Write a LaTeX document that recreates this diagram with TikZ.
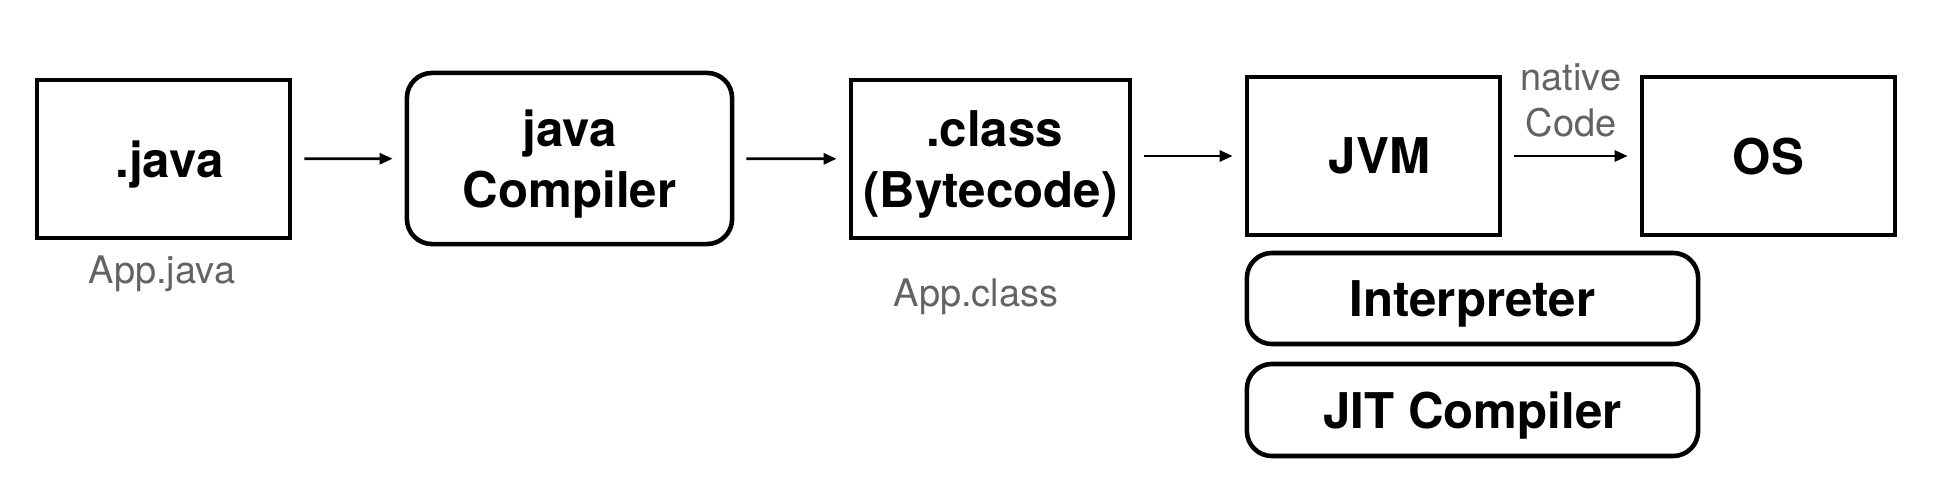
\documentclass[tikz,border=0pt]{standalone}
\usepackage{fontspec}
\setmainfont{TeX Gyre Heros}
\usepackage{tikz}
\usetikzlibrary{positioning, arrows.meta}
\definecolor{notegray}{HTML}{636363}

\begin{document}
\begin{tikzpicture}[x=0.01cm, y=-0.01cm, font=\fontsize{14}{17.5}\selectfont\bfseries]
    \tikzset{
        box/.style={rectangle, draw=black, line width=1.3pt, inner sep=0pt, text depth=0pt,
                    align=center, minimum width=2.53cm, minimum height=1.58cm},
        rbox/.style={box, rounded corners=0.25cm},
        note/.style={text=notegray, font=\fontsize{10.8}{13}\selectfont, align=center,
                     inner sep=0pt, text depth=0pt},
        arrow/.style={line width=0.8pt, -{Triangle[length=0.13cm, width=0.11cm]},
                      shorten <=0.12cm, shorten >=0.12cm}
    }
    \useasboundingbox (0,0) rectangle (1936,494);
    \node[box]  (java)   at (163.5,159)  {\hspace{0.12cm}.java};
    \node[rbox, minimum width=3.25cm, minimum height=1.71cm]
        (javac)  at (569.5,158.5) {java\\Compiler};
    \node[box,  minimum width=2.79cm] (class) at (990.5,159) {\hspace{0.08cm}.class\\(Bytecode)};
    \node[box]  (jvm)    at (1373.5,156) {\hspace{0.12cm}JVM};
    \node[box]  (os)     at (1768.5,156) {OS};
    \node[rbox, minimum width=4.51cm, minimum height=0.91cm]
        (interp) at (1472.5,298.5) {Interpreter};
    \node[rbox, minimum width=4.51cm, minimum height=0.92cm]
        (jit)    at (1472.5,410) {JIT Compiler};
    \node[note] (appjava)  at (162,270) {App.java};
    \node[note] (appclass) at (976,293) {App.class};
    \node[note] (native)   at (1571,100) {native\\Code};
    \draw[arrow] (java)  -- (javac);
    \draw[arrow] (javac) -- (class);
    \draw[arrow] (class.east |- jvm) -- (jvm);
    \draw[arrow] (jvm)   -- (os);
\end{tikzpicture}
\end{document}
